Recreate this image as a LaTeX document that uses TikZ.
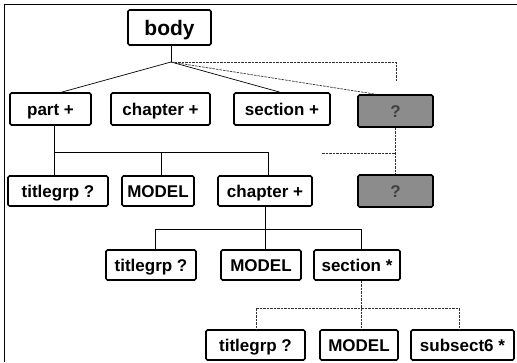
\documentclass[tikz,border=0pt]{standalone}
\usepackage{fontspec}
\setmainfont{Liberation Sans}
\usetikzlibrary{calc}
\tikzset{
  box/.style={draw=black, line width=1.6pt, rounded corners=1.5pt, fill=white,
    inner sep=0pt, font=\bfseries\fontsize{17}{18}\selectfont, anchor=center,
    text height=12pt, text depth=0pt},
  graybox/.style={box, fill=black!45, text=black!75, draw=black},
  conn/.style={line width=0.7pt, black},
  dconn/.style={line width=0.7pt, black!80, dash pattern=on 2.5pt off 1pt},
  frameline/.style={line width=0.8pt, black}
}
\begin{document}
\begin{tikzpicture}[x=1pt,y=-1pt]
\useasboundingbox (0,0) rectangle (517,362);
% frame
\coordinate (f1) at (517,4);
\coordinate (f2) at (4,4);
\coordinate (f3) at (4,362);
\draw[frameline] (f1) -- (f2) -- (f3);
% level 0
\node[box, minimum width=83pt, minimum height=35pt, font=\bfseries\fontsize{21}{22}\selectfont, text height=15pt] (body) at (169.5,27.5) {body};
% level 1
\node[box, minimum width=81pt, minimum height=32pt] (part) at (50.5,109) {part +};
\node[box, minimum width=99pt, minimum height=32pt] (chap1) at (160.5,109) {chapter +};
\node[box, minimum width=96pt, minimum height=32pt] (sec1) at (282,109) {section +};
\node[graybox, minimum width=75pt, minimum height=32pt] (g1) at (395.5,111) {?};
% level 2
\node[box, minimum width=100pt, minimum height=30pt] (tg2) at (58,191) {titlegrp ?};
\node[box, minimum width=72pt, minimum height=30pt] (m2) at (158,191) {MODEL};
\node[box, minimum width=94pt, minimum height=30pt] (chap2) at (265,191) {chapter +};
\node[graybox, minimum width=75pt, minimum height=32pt] (g2) at (395.5,191) {?};
% level 3
\node[box, minimum width=90pt, minimum height=30pt] (tg3) at (151,265) {titlegrp ?};
\node[box, minimum width=80pt, minimum height=30pt] (m3) at (261,265) {MODEL};
\node[box, minimum width=86pt, minimum height=30pt] (sec3) at (357,265) {section *};
% level 4
\node[box, minimum width=99pt, minimum height=30pt] (tg4) at (255.5,345) {titlegrp ?};
\node[box, minimum width=78pt, minimum height=30pt] (m4) at (359,345) {MODEL};
\node[box, minimum width=103pt, minimum height=30pt] (ss4) at (462.5,345) {subsect6 *};

% connectors from body
\coordinate (j0) at (171,62);
\draw[conn] (body.south -| j0) -- (j0);
\draw[conn] (j0) -- ([xshift=11pt]part.north);
\draw[conn] (j0) -- ([xshift=-2pt]sec1.north);
\draw[dconn] (j0) -- ([xshift=-20pt]g1.north);
\coordinate (c1) at (396,62);
\coordinate (c2) at (396,82);
\draw[dconn] (j0) -- (c1) -- (c2);
% gray boxes
\draw[dconn] (g1.south) -- (g2.north);
\coordinate (c3) at (322,153);
\draw[dconn] (c3) -- (c3 -| g1.south);
% part children
\coordinate (j1) at (54,152);
\draw[conn] (part.south -| j1) -- (j1);
\draw[conn] (j1) -- (268,152);
\draw[conn] (j1) -- (tg2.north -| j1);
\draw[conn] (161,152) -- (161,176);
\draw[conn] (268,152) -- (268,176);
% chapter children
\coordinate (j2) at (265,229);
\draw[conn] (chap2.south) -- (j2);
\draw[conn] (155,229) -- (361,229);
\draw[conn] (155,229) -- (155,250);
\draw[conn] (j2) -- (265,250);
\draw[conn] (361,229) -- (361,250);
% section children
\coordinate (j3) at (361,308);
\draw[dconn] (sec3.south -| j3) -- (j3);
\draw[dconn] (256,308) -- (459,308);
\draw[dconn] (256,308) -- (256,330);
\draw[dconn] (j3) -- (361,330);
\draw[dconn] (459,308) -- (459,330);
\end{tikzpicture}
\end{document}
